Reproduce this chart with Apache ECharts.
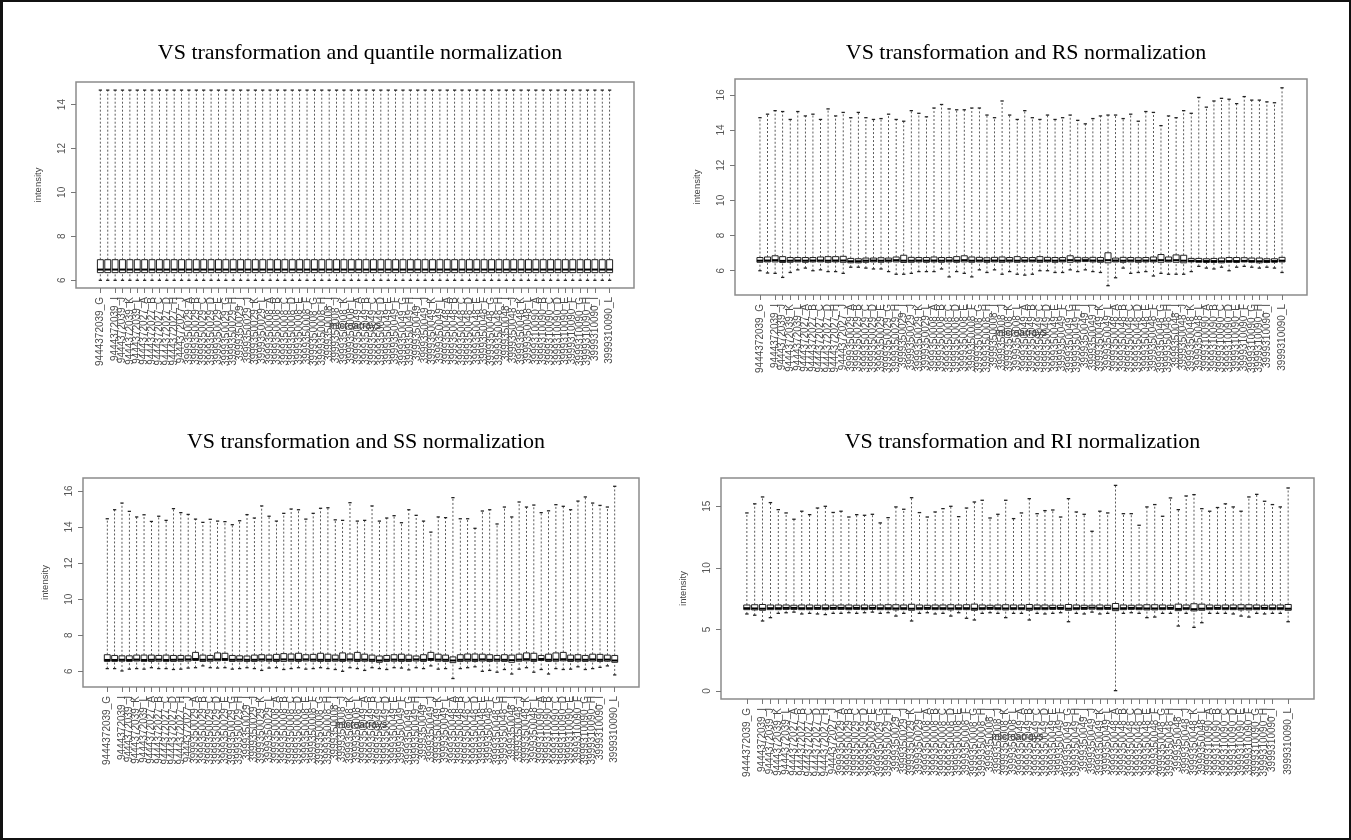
<!DOCTYPE html>
<html>
<head>
<meta charset="utf-8">
<script src="https://cdn.jsdelivr.net/npm/echarts@6/dist/echarts.min.js"></script>
<style>
  html, body { margin: 0; padding: 0; background: #fff; }
  #chart { position: absolute; left: 0; top: 0; width: 1351px; height: 840px; }
  #frame { position: absolute; left: 0; top: 0; width: 1351px; height: 840px; box-sizing: border-box;
           border-left: 3px solid #111; border-top: 2px solid #111; border-right: 2px solid #111; border-bottom: 2px solid #111; pointer-events: none; }
</style>
</head>
<body>
<div id="chart"></div>
<div id="frame"></div>
<script>
// ---------- categories ----------
const labels = [
  '9444372039_G','9444372039_H','9444372039_I','9444372039_J','9444372039_K','9444372039_L',
  '9444372027_A','9444372027_B','9444372027_C','9444372027_D','9444372027_H','9444372027_J',
  '3999350029_A','3999350029_B','3999350029_C','3999350029_D','3999350029_E',
  '3999350029_G','3999350029_H','3999350029_I','3999350029_J','3999350029_K','3999350029_L',
  '3999350008_A','3999350008_B','3999350008_C','3999350008_D','3999350008_E','3999350008_F',
  '3999350008_G','3999350008_H','3999350008_I','3999350008_J','3999350008_K','3999350008_L',
  '3999350049_A','3999350049_B','3999350049_C','3999350049_D','3999350049_E','3999350049_F',
  '3999350049_G','3999350049_H','3999350049_I','3999350049_J','3999350049_K','3999350049_L',
  '3999350048_A','3999350048_B','3999350048_C','3999350048_D','3999350048_E','3999350048_F',
  '3999350048_G','3999350048_H','3999350048_I','3999350048_J','3999350048_K','3999350048_L',
  '3999310090_A','3999310090_B','3999310090_C','3999310090_D','3999310090_E','3999310090_F',
  '3999310090_G','3999310090_H','3999310090_I','3999310090_J','3999310090_L'
];

// ---------- tick labels ----------
const qnYTicks = [6, 8, 10, 12, 14];
const rsYTicks = [6, 8, 10, 12, 14, 16];
const ssYTicks = [6, 8, 10, 12, 14, 16];
const riYTicks = [0, 5, 10, 15];

// ---------- titles ----------
const titles = [
  'VS transformation and quantile normalization',
  'VS transformation and RS normalization',
  'VS transformation and SS normalization',
  'VS transformation and RI normalization'
];

// ---------- panel 1: quantile ----------
const qnLow  = [5.99,5.99,5.99,5.99,5.99,5.99,5.99,5.99,5.99,5.99,5.99,5.99,5.99,5.99,5.99,5.99,5.99,5.99,5.99,5.99,5.99,5.99,5.99,5.99,5.99,5.99,5.99,5.99,5.99,5.99,5.99,5.99,5.99,5.99,5.99,5.99,5.99,5.99,5.99,5.99,5.99,5.99,5.99,5.99,5.99,5.99,5.99,5.99,5.99,5.99,5.99,5.99,5.99,5.99,5.99,5.99,5.99,5.99,5.99,5.99,5.99,5.99,5.99,5.99,5.99,5.99,5.99,5.99,5.99,5.99];
const qnQ1   = [6.34,6.34,6.34,6.34,6.34,6.34,6.34,6.34,6.34,6.34,6.34,6.34,6.34,6.34,6.34,6.34,6.34,6.34,6.34,6.34,6.34,6.34,6.34,6.34,6.34,6.34,6.34,6.34,6.34,6.34,6.34,6.34,6.34,6.34,6.34,6.34,6.34,6.34,6.34,6.34,6.34,6.34,6.34,6.34,6.34,6.34,6.34,6.34,6.34,6.34,6.34,6.34,6.34,6.34,6.34,6.34,6.34,6.34,6.34,6.34,6.34,6.34,6.34,6.34,6.34,6.34,6.34,6.34,6.34,6.34];
const qnMed  = [6.48,6.48,6.48,6.48,6.48,6.48,6.48,6.48,6.48,6.48,6.48,6.48,6.48,6.48,6.48,6.48,6.48,6.48,6.48,6.48,6.48,6.48,6.48,6.48,6.48,6.48,6.48,6.48,6.48,6.48,6.48,6.48,6.48,6.48,6.48,6.48,6.48,6.48,6.48,6.48,6.48,6.48,6.48,6.48,6.48,6.48,6.48,6.48,6.48,6.48,6.48,6.48,6.48,6.48,6.48,6.48,6.48,6.48,6.48,6.48,6.48,6.48,6.48,6.48,6.48,6.48,6.48,6.48,6.48,6.48];
const qnQ3   = [6.93,6.93,6.93,6.93,6.93,6.93,6.93,6.93,6.93,6.93,6.93,6.93,6.93,6.93,6.93,6.93,6.93,6.93,6.93,6.93,6.93,6.93,6.93,6.93,6.93,6.93,6.93,6.93,6.93,6.93,6.93,6.93,6.93,6.93,6.93,6.93,6.93,6.93,6.93,6.93,6.93,6.93,6.93,6.93,6.93,6.93,6.93,6.93,6.93,6.93,6.93,6.93,6.93,6.93,6.93,6.93,6.93,6.93,6.93,6.93,6.93,6.93,6.93,6.93,6.93,6.93,6.93,6.93,6.93,6.93];
const qnHigh = [14.66,14.66,14.66,14.66,14.66,14.66,14.66,14.66,14.66,14.66,14.66,14.66,14.66,14.66,14.66,14.66,14.66,14.66,14.66,14.66,14.66,14.66,14.66,14.66,14.66,14.66,14.66,14.66,14.66,14.66,14.66,14.66,14.66,14.66,14.66,14.66,14.66,14.66,14.66,14.66,14.66,14.66,14.66,14.66,14.66,14.66,14.66,14.66,14.66,14.66,14.66,14.66,14.66,14.66,14.66,14.66,14.66,14.66,14.66,14.66,14.66,14.66,14.66,14.66,14.66,14.66,14.66,14.66,14.66,14.66];

// ---------- panel 2: RS ----------
const rsLow  = [6.0,5.87,5.85,5.62,5.9,6.05,6.15,6.0,6.05,5.95, 5.95,5.85,6.2,6.2,6.15,6.1,6.1,5.95,5.8,5.8, 5.85,5.95,5.95,5.95,6.1,5.65,5.95,5.85,5.65,6.05, 5.9,6.05,5.8,5.95,5.8,5.75,5.8,6.0,6.0,5.9, 5.9,6.05,5.95,6.05,5.95,5.9,5.15,5.6,6.15,5.85, 5.9,5.95,5.7,5.85,5.8,5.8,5.8,5.95,6.25,6.15, 6.1,6.2,6.0,6.2,6.25,6.2,6.15,6.2,6.15,5.9];
const rsQ1   = [6.48,6.5,6.5,6.47,6.48,6.5,6.48,6.5,6.5,6.48, 6.5,6.48,6.45,6.45,6.48,6.5,6.48,6.5,6.5,6.47, 6.48,6.5,6.48,6.5,6.48,6.5,6.48,6.5,6.48,6.5, 6.48,6.5,6.48,6.5,6.48,6.5,6.5,6.48,6.5,6.48, 6.5,6.48,6.5,6.52,6.5,6.48,6.45,6.5,6.48,6.5, 6.48,6.5,6.5,6.48,6.5,6.48,6.45,6.5,6.48,6.47, 6.47,6.45,6.48,6.47,6.5,6.48,6.45,6.47,6.48,6.5];
const rsMed  = [6.57,6.58,6.6,6.56,6.57,6.58,6.57,6.58,6.58,6.57, 6.58,6.58,6.54,6.54,6.57,6.58,6.57,6.58,6.6,6.57, 6.57,6.58,6.57,6.58,6.57,6.58,6.57,6.6,6.57,6.58, 6.57,6.58,6.57,6.58,6.57,6.58,6.58,6.57,6.58,6.57, 6.58,6.6,6.58,6.6,6.58,6.57,6.6,6.58,6.57,6.58, 6.57,6.58,6.58,6.6,6.58,6.6,6.57,6.56,6.55,6.55, 6.55,6.54,6.55,6.55,6.56,6.55,6.54,6.55,6.55,6.57];
const rsQ3   = [6.75,6.78,6.85,6.8,6.75,6.75,6.75,6.75,6.78,6.8, 6.8,6.82,6.7,6.68,6.72,6.72,6.74,6.72,6.78,6.88, 6.76,6.75,6.75,6.78,6.75,6.75,6.8,6.85,6.78,6.76, 6.74,6.76,6.78,6.75,6.8,6.75,6.75,6.8,6.76,6.75, 6.75,6.85,6.76,6.74,6.76,6.75,7.02,6.72,6.76,6.75, 6.74,6.75,6.78,6.92,6.78,6.9,6.88,6.7,6.7,6.68, 6.7,6.72,6.75,6.75,6.74,6.72,6.72,6.68,6.68,6.76];
const rsHigh = [14.7,14.9,15.1,15.05,14.6,15.05,14.8,14.9,14.6,15.2, 14.8,15.0,14.7,15.0,14.7,14.6,14.65,14.9,14.6,14.5, 15.1,14.95,14.75,15.25,15.45,15.2,15.15,15.15,15.25,15.25, 14.85,14.7,15.65,14.85,14.6,15.1,14.7,14.6,14.85,14.6, 14.7,14.85,14.55,14.35,14.65,14.8,14.85,14.85,14.65,14.9, 14.5,15.05,15.0,14.25,14.8,14.7,15.1,14.95,15.85,15.3, 15.65,15.8,15.75,15.5,15.9,15.7,15.7,15.6,15.55,16.4];

// ---------- panel 3: SS ----------
const ssLow  = [6.15,6.15,6.02,6.12,6.15,6.12,6.2,6.15,6.15,6.1, 6.12,6.18,6.2,6.3,6.2,6.18,6.2,6.12,6.15,6.2, 6.15,6.05,6.18,6.2,6.1,6.15,6.2,6.12,6.15,6.2, 6.15,6.1,6.0,6.2,6.15,6.05,6.2,6.15,6.1,6.2, 6.18,6.08,6.2,6.15,6.3,6.12,6.15,5.6,6.15,6.2, 6.25,6.0,6.05,5.95,6.1,5.85,6.12,6.2,5.95,6.1, 5.85,6.15,6.1,6.12,6.25,6.1,6.15,6.22,6.3,5.8];
const ssQ1   = [6.55,6.55,6.56,6.55,6.57,6.55,6.55,6.56,6.55,6.55, 6.56,6.57,6.6,6.55,6.56,6.58,6.6,6.55,6.56,6.55, 6.55,6.57,6.56,6.55,6.55,6.56,6.55,6.57,6.56,6.55, 6.55,6.56,6.55,6.57,6.55,6.56,6.55,6.5,6.55,6.56, 6.55,6.55,6.57,6.55,6.6,6.56,6.55,6.48,6.55,6.56, 6.55,6.57,6.55,6.56,6.55,6.5,6.56,6.58,6.55,6.6, 6.55,6.56,6.58,6.55,6.56,6.55,6.57,6.55,6.56,6.5];
const ssMed  = [6.63,6.63,6.64,6.63,6.65,6.63,6.64,6.65,6.63,6.64, 6.65,6.66,6.68,6.64,6.65,6.66,6.68,6.64,6.65,6.64, 6.64,6.66,6.65,6.64,6.66,6.65,6.64,6.66,6.65,6.64, 6.64,6.65,6.64,6.66,6.64,6.65,6.64,6.6,6.64,6.65, 6.64,6.64,6.66,6.64,6.68,6.65,6.64,6.6,6.64,6.65, 6.64,6.66,6.64,6.65,6.64,6.62,6.65,6.67,6.64,6.68, 6.64,6.65,6.67,6.64,6.65,6.64,6.66,6.64,6.65,6.6];
const ssQ3   = [6.92,6.88,6.86,6.86,6.9,6.9,6.9,6.88,6.9,6.88, 6.88,6.86,7.05,6.9,6.88,7.02,7.0,6.88,6.86,6.85, 6.9,6.92,6.9,6.94,6.98,6.96,7.0,6.92,6.94,7.0, 6.95,6.9,7.02,6.96,7.05,6.95,6.9,6.85,6.88,6.92, 6.95,6.9,6.85,6.92,7.05,6.95,6.9,6.8,6.92,6.96, 6.96,6.95,6.92,6.88,6.92,6.9,6.95,7.02,7.0,6.88, 6.95,7.02,7.05,6.9,6.92,6.88,6.95,6.94,6.9,6.88];
const ssHigh = [14.46,14.96,15.33,14.87,14.56,14.68,14.31,14.6,14.37,15.02, 14.8,14.7,14.44,14.26,14.43,14.33,14.3,14.13,14.35,14.69, 14.5,15.17,14.6,14.33,14.76,15.0,14.96,14.44,14.76,15.04, 15.07,14.4,14.37,15.35,14.33,14.37,15.17,14.33,14.5,14.63, 14.24,14.96,14.65,14.33,13.72,14.56,14.52,15.63,14.46,14.46, 13.93,14.89,14.96,14.17,15.11,14.56,15.39,15.11,15.22,14.8, 14.9,15.24,15.15,14.96,15.44,15.67,15.33,15.2,15.11,16.26];

// ---------- panel 4: RI ----------
const riLow  = [6.25,6.15,5.68,5.95,6.3,6.35,6.4,6.25,6.3,6.25, 6.2,6.3,6.3,6.35,6.3,6.35,6.4,6.3,6.35,6.08, 6.3,5.68,6.3,6.35,6.25,6.3,6.08,6.35,5.9,5.76, 6.3,6.35,6.3,5.95,6.3,6.3,5.76,6.3,6.25,6.3, 6.35,5.62,6.3,6.25,6.4,6.25,6.3,0.02,6.3,6.35, 6.3,5.95,6.0,6.3,6.3,5.27,6.3,5.16,5.54,6.3, 6.3,6.3,6.25,6.08,6.0,6.3,6.25,6.3,6.3,5.62];
const riQ1   = [6.6,6.58,6.55,6.6,6.6,6.62,6.62,6.6,6.6,6.62, 6.6,6.62,6.62,6.6,6.62,6.6,6.62,6.6,6.6,6.58, 6.6,6.55,6.6,6.62,6.6,6.6,6.58,6.6,6.6,6.55, 6.6,6.62,6.6,6.58,6.6,6.6,6.55,6.6,6.6,6.62, 6.62,6.55,6.6,6.62,6.64,6.6,6.62,6.52,6.6,6.62, 6.6,6.58,6.58,6.6,6.62,6.52,6.6,6.5,6.55,6.6, 6.62,6.6,6.6,6.58,6.58,6.6,6.62,6.6,6.6,6.55];
const riMed  = [6.72,6.7,6.68,6.72,6.72,6.74,6.74,6.72,6.72,6.74, 6.72,6.74,6.74,6.72,6.74,6.72,6.74,6.72,6.72,6.7, 6.72,6.68,6.72,6.74,6.72,6.72,6.7,6.72,6.72,6.68, 6.72,6.74,6.72,6.7,6.72,6.72,6.68,6.72,6.72,6.74, 6.74,6.68,6.72,6.74,6.76,6.72,6.74,6.68,6.72,6.74, 6.72,6.7,6.7,6.72,6.74,6.66,6.72,6.64,6.68,6.72, 6.74,6.72,6.72,6.7,6.7,6.72,6.74,6.72,6.72,6.68];
const riQ3   = [6.98,7.0,7.02,6.98,6.98,6.98,6.96,6.98,6.98,6.96, 6.98,6.96,6.98,6.98,6.96,6.98,6.96,6.98,7.0,7.0, 6.98,7.04,6.98,6.96,6.98,6.98,7.0,6.98,7.0,7.05, 6.98,6.96,6.98,7.0,6.98,6.98,7.02,6.98,6.98,6.96, 6.96,7.02,6.98,6.96,6.96,6.98,6.96,7.1,6.98,6.96, 6.98,7.0,7.0,6.98,6.96,7.05,6.98,7.08,7.05,6.98, 6.96,6.98,6.98,7.0,7.0,6.98,6.96,6.98,6.98,7.02];
const riHigh = [14.46,15.2,15.76,15.3,14.73,14.46,13.95,14.6,14.32,14.86, 15.0,14.5,14.6,14.13,14.32,14.27,14.35,13.65,14.08,14.95, 14.76,15.7,14.49,14.13,14.54,14.81,15.0,14.16,14.86,15.35, 15.49,14.05,14.35,15.49,14.0,14.46,15.62,14.4,14.65,14.7, 14.13,15.62,14.54,14.35,12.97,14.6,14.46,16.7,14.4,14.4, 13.46,14.95,15.14,14.19,15.68,14.73,15.84,15.95,14.81,14.6, 14.9,15.2,14.95,14.6,15.76,15.97,15.41,15.14,14.95,16.49];

// ---------- build ----------
function rows(lo, q1, md, q3, hi) {
  return labels.map((_, i) => [i + 1, lo[i], q1[i], md[i], q3[i], hi[i]]);
}
const panels = [
  { data: rows(qnLow, qnQ1, qnMed, qnQ3, qnHigh), yTicks: qnYTicks, ymin: 5.64, ymax: 15.03,
    grid: { left: 76, top: 82, width: 558, height: 206 }, ty: 37 },
  { data: rows(rsLow, rsQ1, rsMed, rsQ3, rsHigh), yTicks: rsYTicks, ymin: 4.62, ymax: 16.9,
    grid: { left: 735, top: 79, width: 572, height: 216 }, ty: 37 },
  { data: rows(ssLow, ssQ1, ssMed, ssQ3, ssHigh), yTicks: ssYTicks, ymin: 5.13, ymax: 16.72,
    grid: { left: 83, top: 478, width: 556, height: 209 }, ty: 426 },
  { data: rows(riLow, riQ1, riMed, riQ3, riHigh), yTicks: riYTicks, ymin: -0.66, ymax: 17.3,
    grid: { left: 721, top: 478, width: 593, height: 221 }, ty: 426 }
];

const n = labels.length;
const xTicks = labels.map((_, i) => i + 1);

function renderBox(params, api) {
  const x = api.value(0);
  const lo = api.coord([x, api.value(1)]);
  const q1 = api.coord([x, api.value(2)]);
  const md = api.coord([x, api.value(3)]);
  const q3 = api.coord([x, api.value(4)]);
  const hi = api.coord([x, api.value(5)]);
  const unit = api.size([1, 0])[0];
  const hb = unit * 0.4, hs = unit * 0.22;
  const cx = lo[0];
  const dash = { stroke: '#333', lineWidth: 0.8, lineDash: [2, 2], fill: null };
  const cap = { stroke: '#222', lineWidth: 1.3, fill: null };
  return {
    type: 'group',
    children: [
      { type: 'line', shape: { x1: cx, y1: q3[1], x2: cx, y2: hi[1] }, style: dash },
      { type: 'line', shape: { x1: cx, y1: lo[1], x2: cx, y2: q1[1] }, style: dash },
      { type: 'line', shape: { x1: cx - hs, y1: hi[1], x2: cx + hs, y2: hi[1] }, style: cap },
      { type: 'line', shape: { x1: cx - hs, y1: lo[1], x2: cx + hs, y2: lo[1] }, style: cap },
      { type: 'rect', shape: { x: cx - hb, y: q3[1], width: 2 * hb, height: q1[1] - q3[1] },
        style: { fill: '#fff', stroke: '#222', lineWidth: 1 } },
      { type: 'line', shape: { x1: cx - hb, y1: md[1], x2: cx + hb, y2: md[1] },
        style: { stroke: '#000', lineWidth: 2, fill: null } }
    ]
  };
}

const option = {
  animation: false,
  backgroundColor: '#fff',
  title: panels.map((p, i) => ({
    text: titles[i], left: p.grid.left + p.grid.width / 2, top: p.ty, textAlign: 'center',
    textStyle: { fontFamily: 'Liberation Serif, Times New Roman, serif', fontWeight: 'normal', fontSize: 22, color: '#000' }
  })),
  grid: panels.map(p => Object.assign({ show: true, borderColor: '#8c8c8c', borderWidth: 1.5, backgroundColor: 'transparent' }, p.grid)),
  xAxis: panels.map((p, i) => ({
    gridIndex: i, type: 'value', min: 0.5 - 0.04 * n, max: n + 0.5 + 0.04 * n,
    splitLine: { show: false },
    axisLine: { show: false, onZero: false },
    axisTick: { show: true, length: 5, customValues: xTicks, lineStyle: { color: '#777', width: 1 } },
    axisLabel: { customValues: xTicks, interval: 0, showMinLabel: true, showMaxLabel: true,
      rotate: 90, fontSize: 10, color: '#4a4a4a', margin: 9,
      fontFamily: 'Liberation Sans, Arial, sans-serif', hideOverlap: false,
      formatter: v => labels[Math.round(v) - 1] || '' },
    name: 'microarrays', nameLocation: 'middle', nameGap: 33, nameMoveOverlap: false,
    nameTextStyle: { fontSize: 10, color: '#222', fontFamily: 'Liberation Sans, Arial, sans-serif' }
  })),
  yAxis: panels.map((p, i) => ({
    gridIndex: i, type: 'value', min: p.ymin, max: p.ymax,
    splitLine: { show: false },
    axisLine: { show: false, onZero: false },
    axisTick: { show: true, length: 5, customValues: p.yTicks, lineStyle: { color: '#777', width: 1 } },
    axisLabel: { customValues: p.yTicks, showMinLabel: true, showMaxLabel: true,
      rotate: 90, fontSize: 10, color: '#555', margin: 9,
      fontFamily: 'Liberation Sans, Arial, sans-serif' },
    name: 'intensity', nameLocation: 'middle', nameGap: 33, nameRotate: 90, nameMoveOverlap: false,
    nameTextStyle: { fontSize: 9.5, color: '#444', fontFamily: 'Liberation Sans, Arial, sans-serif' }
  })),
  series: panels.map((p, i) => ({
    type: 'custom', xAxisIndex: i, yAxisIndex: i,
    renderItem: renderBox,
    encode: { x: 0, y: [1, 2, 3, 4, 5] },
    data: p.data
  }))
};

const chart = echarts.init(document.getElementById('chart'), null, { renderer: 'canvas' });
chart.setOption(option);
</script>
</body>
</html>
